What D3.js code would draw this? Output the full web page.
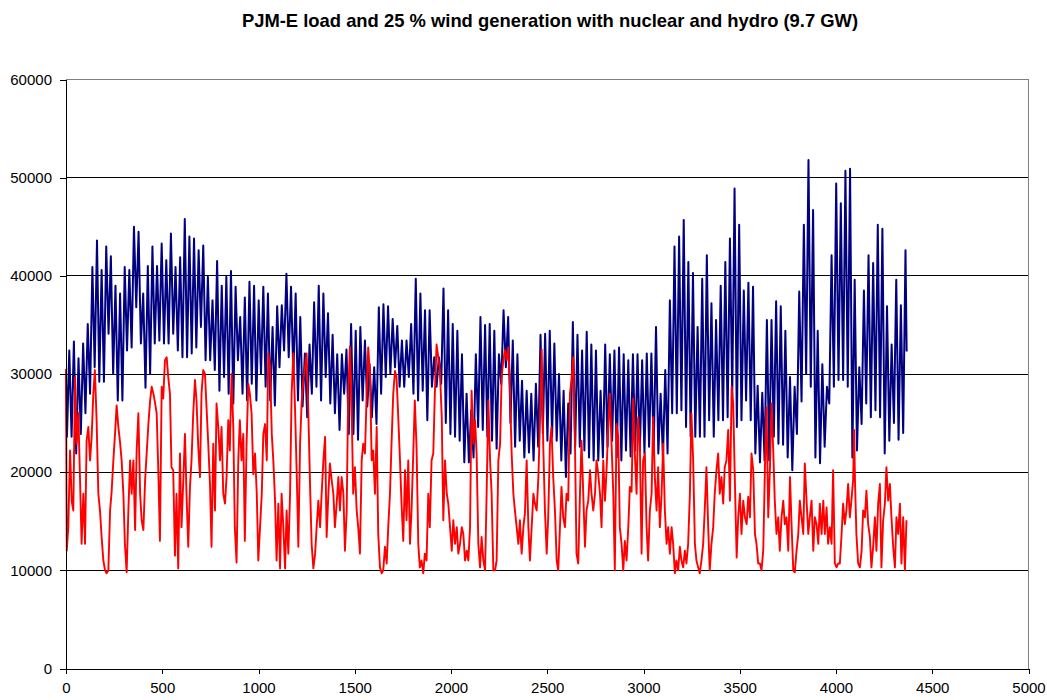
<!DOCTYPE html>
<html>
<head>
<meta charset="utf-8">
<script src="https://cdn.jsdelivr.net/npm/d3@7"></script>
<style>
  body { margin: 0; background: #fff; }
  svg text { font-family: "Liberation Sans", Arial, sans-serif; }
</style>
</head>
<body>
<div id="chart"></div>
<script>
const title = 'PJM-E load and 25 % wind generation with nuclear and hydro (9.7 GW)'

const xTicks = [0, 500, 1000, 1500, 2000, 2500, 3000, 3500, 4000, 4500, 5000]
const yTicks = [0, 10000, 20000, 30000, 40000, 50000, 60000]

// PJM-E load, daily troughs and peaks (MW), one pair per day
const loadLow = [
  23600,23600,21900,23900,26000,28000,30700,29200,29200,34100,30000,27300,27300,32400,32700,36800,33100,28600,30000,33100,
  33400,33100,33100,34100,32400,31700,31700,32100,32700,34800,31400,31400,30400,28300,29700,28000,27000,31400,28000,27300,29000,
  27300,30000,28700,27300,26800,30700,32400,31700,30000,27300,26700,25600,28000,28700,27300,29700,27000,26000,24300,28000,
  23900,23900,23300,27300,26700,25600,24900,28000,29700,30000,30700,28700,28700,29700,28000,27300,28300,25300,28700,28700,29000,
  25000,23900,23600,23200,21000,21000,21500,24600,24300,23600,23200,22400,29000,30700,25000,22600,23200,21500,22000,21200,22600,
  24000,23200,23600,23200,21200,19500,21900,22600,22600,22200,21500,21200,21200,21500,22600,23200,21500,21200,22200,21600,
  22200,22200,21900,22600,22200,21900,21500,21900,26000,26000,26300,24600,23600,23600,23600,23600,25300,23600,25300,25300,25600,
  27700,24600,25300,27300,25300,21900,21000,21200,21200,23600,22900,22800,21500,20200,23900,27200,30000,28700,21500,20900,
  22600,27000,28700,29400,29400,28700,21500,22200,24900,27000,25600,26300,25600,21900,23200,25000,23300,24000
]
const loadHigh = [
  32400,33300,31600,33100,35100,40900,43600,40600,43000,42000,39000,38200,40900,40600,45000,44500,38200,41000,43000,41000,
  43300,41600,44300,40900,41900,45800,44000,43800,42600,43100,39900,37500,41500,39000,39900,40500,38900,35800,37800,39400,39000,
  37500,38900,38200,34800,36900,37000,40200,38900,38200,35800,32100,33000,37300,39000,38200,36200,34000,32000,32000,32500,
  35100,34400,34800,33400,31000,30700,36800,37100,36900,35600,34900,33400,33400,35100,39700,38200,36500,36500,31700,31700,38700,
  36500,35100,34400,32000,28000,26300,32000,35800,35000,35100,34400,32000,36500,35800,33400,32000,29300,28300,28000,29000,34000,
  34100,34400,33100,30000,28300,27000,35300,34000,32400,34300,33000,32400,28300,33000,32000,32400,32700,32000,31400,32000,
  32000,31400,32100,32100,34800,28000,30400,37500,43000,44000,45700,41400,40300,34800,39700,42100,37200,35500,39000,41400,43800,
  48900,45200,38500,39300,38900,28800,28100,35500,35500,37400,36900,34400,29700,28700,38400,45200,51800,46700,34400,31000,
  28700,42100,49400,47400,50700,50900,39600,30700,38500,42100,41300,45200,44800,36900,33000,39600,37000,42600
]
const loadStart = 30000
const loadEnd = 32300

// wind generation plus nuclear and hydro, [hour, MW]
const wind = [
  [0,30500],[4,12000],[12,14400],[21,22200],[30,17000],[38,16100],[47,29700],[55,22900],[64,26000],[73,19200],[81,12700],[90,17800],[99,12700],[107,23200],[116,24600],[125,21200],[133,23500],[142,28000],[150,30400],[159,25300],[168,17800],[177,16000],[185,13400],[194,11000],[203,10000],[211,9700],[220,10000],[229,16100],[237,18000],[246,21200],[255,24000],[263,26800],[272,24600],[281,23000],[289,21200],[298,17800],[306,12700],[315,9800],[324,16100],[333,21200],[341,17800],[350,21200],[359,14100],[367,22200],[376,26000],[385,17800],[393,15100],[402,14100],[411,19200],[419,21900],[428,24900],[437,27300],[445,28700],[454,28000],[463,27000],[471,26000],[480,19800],[488,13000],
  [497,28700],[505,27500],[514,31400],[523,31700],[531,29700],[540,28000],[548,20500],[557,20200],[566,11500],[574,17800],[583,10200],[592,21900],[600,14400],[609,19000],[618,23900],[626,17800],[635,12400],[644,18500],[652,21200],[661,26000],[670,29400],[678,27300],[687,22600],[696,19500],[704,28000],[713,30400],[722,30000],[730,26600],[739,22900],[748,18800],[756,12400],[765,22900],[774,16100],[782,27000],[791,24600],[800,21200],[808,24600],[817,17800],[826,16800],[834,19500],[843,25300],[851,22200],[860,30000],[869,24600],[877,14400],[886,10800],[895,21200],[903,25300],[912,21200],[921,23900],[929,13000],[938,22900],[947,29000],[955,28000],[964,26000],[973,19800],
  [982,21900],[991,17800],[999,11000],[1008,14400],[1017,17800],[1025,23900],[1034,24900],[1043,21200],[1051,32100],[1060,30700],[1069,23900],[1077,21200],[1086,17100],[1094,11000],[1103,16800],[1112,10200],[1120,17800],[1129,14400],[1138,10200],[1146,16100],[1155,11700],[1164,17800],[1172,28000],[1181,32100],[1190,26300],[1199,19500],[1207,12400],[1216,22900],[1224,27000],[1233,29400],[1242,30700],[1250,32100],[1259,26000],[1268,18500],[1276,12700],[1285,10200],[1294,11700],[1302,14400],[1311,17100],[1320,14400],[1328,17800],[1337,21200],[1346,23600],[1354,13400],[1363,17800],[1371,20900],[1380,19200],[1389,17800],[1397,14400],[1406,16800],[1415,19500],[1423,16100],[1432,19500],[1441,17800],
  [1449,12000],[1458,16000],[1466,28000],[1475,32800],[1484,26300],[1492,17800],[1501,20500],[1510,16100],[1518,14400],[1527,11700],[1536,21200],[1544,22900],[1553,21900],[1562,28000],[1570,32700],[1579,30000],[1588,21200],[1596,22200],[1605,17800],[1614,24600],[1622,13700],[1631,10300],[1640,9700],[1648,10000],[1657,12400],[1666,10700],[1674,14400],[1683,17800],[1691,22900],[1700,28000],[1709,30300],[1717,29700],[1726,25600],[1735,21200],[1743,16800],[1752,13000],[1761,20200],[1769,15100],[1778,21200],[1787,12700],[1795,16100],[1804,21900],[1812,27300],[1821,22600],[1830,12700],[1838,10300],[1847,11000],[1856,9700],[1864,11700],[1873,11000],[1882,17800],[1890,14400],[1899,21200],[1908,21900],[1916,28000],[1925,33000],[1934,31700],[1942,30500],
  [1952,25600],[1960,15100],[1969,21200],[1978,17800],[1986,16800],[1995,14400],[2004,12000],[2012,15100],[2021,12700],[2030,14400],[2038,11700],[2047,12700],[2056,14400],[2064,13700],[2073,11000],[2082,12000],[2090,11000],[2099,14400],[2107,28300],[2116,22900],[2125,25300],[2133,21900],[2142,12700],[2151,10300],[2159,13400],[2168,11000],[2177,10000],[2185,17800],[2194,27300],[2203,21200],[2211,17800],[2220,10000],[2229,10000],[2237,11000],[2246,21200],[2255,22900],[2263,29700],[2272,31400],[2280,32400],[2289,31400],[2298,32700],[2306,28700],[2315,21900],[2324,17800],[2332,16100],[2341,14400],[2350,12700],[2358,15100],[2367,11700],[2376,14400],[2384,15800],[2393,21200],[2402,14400],[2410,11000],[2419,14400],[2428,17800],[2436,16800],[2445,16100],[2454,19500],
  [2462,25000],[2471,32500],[2479,22900],[2488,16100],[2497,11700],[2505,15400],[2514,22900],[2522,24600],[2531,19500],[2540,16100],[2549,11000],[2557,10000],[2566,14400],[2574,18500],[2583,15400],[2592,14400],[2600,17800],[2609,17100],[2618,28000],[2626,29400],[2635,31700],[2644,22900],[2652,11700],[2661,10700],[2670,17800],[2678,23200],[2687,17800],[2696,12400],[2704,16100],[2713,17100],[2722,20200],[2730,17800],[2739,16100],[2748,17800],[2756,21200],[2765,19800],[2774,17800],[2782,14400],[2791,21200],[2800,17100],[2808,20200],[2817,24600],[2825,28000],[2834,22900],[2843,17800],[2851,10000],[2860,24900],[2869,23600],[2877,14400],[2886,12700],[2895,10000],[2903,13000],[2912,11000],[2921,14400],[2929,18500],[2938,18000],[2947,27500],[2955,21900],
  [2964,17800],[2972,25600],[2981,22900],[2990,11700],[2998,21200],[3007,21900],[3016,14400],[3024,11000],[3033,16100],[3042,17800],[3050,25600],[3059,19500],[3068,16100],[3076,20500],[3085,14400],[3094,17800],[3102,22900],[3111,16100],[3120,12700],[3128,14400],[3137,11700],[3146,14400],[3154,12700],[3163,9700],[3171,11000],[3180,10000],[3189,12400],[3197,11000],[3206,10300],[3215,12000],[3223,10700],[3232,12700],[3241,17800],[3249,26000],[3258,21200],[3267,12700],[3275,11000],[3284,10300],[3292,9700],[3301,11000],[3310,12700],[3318,16100],[3327,20500],[3336,14400],[3344,10000],[3353,12700],[3362,14400],[3370,17800],[3379,20200],[3388,21900],[3396,17800],[3405,19500],[3414,16800],[3422,20500],[3431,21200],[3440,24300],
  [3449,17100],[3458,28700],[3466,27000],[3475,18800],[3484,11300],[3492,15400],[3501,17800],[3509,13700],[3518,17100],[3527,15400],[3536,14700],[3544,17500],[3553,15400],[3561,21900],[3570,20200],[3579,13700],[3587,12700],[3596,10700],[3605,10700],[3613,10000],[3622,12000],[3631,20500],[3639,26600],[3648,15400],[3657,20500],[3665,27000],[3674,22200],[3682,17100],[3691,13700],[3700,15400],[3708,12000],[3717,15400],[3726,17100],[3734,14700],[3743,15400],[3752,12000],[3761,19500],[3769,14700],[3778,10000],[3786,9800],[3795,12000],[3804,13700],[3812,17100],[3821,15400],[3830,13700],[3838,20900],[3847,17100],[3856,13700],[3864,15400],[3873,17100],[3882,12000],[3890,15400],[3899,14700],[3908,12700],[3916,16800],[3925,13700],[3934,17100],
  [3942,13700],[3951,16400],[3959,12700],[3968,14400],[3977,12700],[3985,20200],[3994,10700],[4003,10300],[4011,10700],[4020,10700],[4029,13700],[4037,16800],[4046,14700],[4054,16100],[4063,18800],[4072,15400],[4080,17100],[4089,19200],[4094,24300],[4099,18800],[4106,13700],[4115,10700],[4124,10300],[4133,12000],[4141,16100],[4150,15400],[4158,18100],[4167,14700],[4176,13400],[4184,10300],[4193,12400],[4202,15400],[4210,12000],[4219,16800],[4228,18800],[4236,10300],[4245,15100],[4254,16800],[4262,20500],[4271,17100],[4280,18800],[4288,15400],[4297,12400],[4306,10300],[4314,15400],[4323,13700],[4332,16800],[4340,10700],[4349,15400],[4358,10000],[4366,15100]
]

const width = 1047
const height = 700
const margin = { top: 79.5, right: 18.5, bottom: 31.5, left: 66 }

// hourly load: trough early morning, peak in the afternoon
const load = [[0, loadStart]]
loadLow.forEach((lo, d) => {
  load.push([d * 24 + 5, lo])
  load.push([d * 24 + 17, loadHigh[d]])
})
load.push([4367, loadEnd])

const svg = d3.select('#chart')
  .append('svg')
    .attr('width', width)
    .attr('height', height)

const xScale = d3.scaleLinear()
  .domain([0, 5000])
  .range([margin.left, width - margin.right])

const yScale = d3.scaleLinear()
  .domain([0, 60000])
  .range([height - margin.bottom, margin.top])

// title
svg.append('text')
  .text(title)
    .attr('x', 550)
    .attr('y', 27)
    .attr('text-anchor', 'middle')
    .attr('font-size', '18.4px')
    .attr('font-weight', 'bold')
    .attr('fill', '#000')

// gridlines
svg.append('g')
  .selectAll('line')
  .data(yTicks.filter(d => d > 0 && d < 60000)).enter()
    .append('line')
      .attr('x1', xScale(0))
      .attr('x2', xScale(5000))
      .attr('y1', d => yScale(d))
      .attr('y2', d => yScale(d))
      .attr('stroke', '#000')
      .attr('stroke-width', 1)
      .attr('shape-rendering', 'crispEdges')

// plot frame, top and right
svg.append('path')
  .attr('d', `M${xScale(0)},${yScale(60000)}H${xScale(5000)}V${yScale(0)}`)
  .attr('fill', 'none')
  .attr('stroke', '#808080')
  .attr('stroke-width', 1)
  .attr('shape-rendering', 'crispEdges')

const line = d3.line()
  .x(d => xScale(d[0]))
  .y(d => yScale(d[1]))

svg.append('path')
  .datum(load)
    .attr('d', line)
    .attr('fill', 'none')
    .attr('stroke', '#000080')
    .attr('stroke-width', 2)
    .attr('stroke-linejoin', 'round')

svg.append('path')
  .datum(wind)
    .attr('d', line)
    .attr('fill', 'none')
    .attr('stroke', '#ff0000')
    .attr('stroke-width', 1.9)
    .attr('stroke-linejoin', 'round')

// axes
const xAxis = d3.axisBottom(xScale)
  .tickValues(xTicks)
  .tickFormat(d3.format('d'))
  .tickSize(5)
  .tickSizeOuter(0)
  .tickPadding(9)

svg.append('g')
  .attr('id', 'x-axis')
  .attr('transform', `translate(0, ${yScale(0)})`)
  .call(xAxis)

const yAxis = d3.axisLeft(yScale)
  .tickValues(yTicks)
  .tickFormat(d3.format('d'))
  .tickSize(6)
  .tickSizeOuter(0)
  .tickPadding(8)

svg.append('g')
  .attr('id', 'y-axis')
  .attr('transform', `translate(${xScale(0)}, 0)`)
  .call(yAxis)

svg.selectAll('#x-axis text, #y-axis text')
  .attr('font-size', '15px')
  .attr('fill', '#000')
  .attr('font-family', '"Liberation Sans", Arial, sans-serif')
svg.selectAll('.domain, .tick line')
  .attr('stroke', '#000')
  .attr('shape-rendering', 'crispEdges')
</script>
</body>
</html>
